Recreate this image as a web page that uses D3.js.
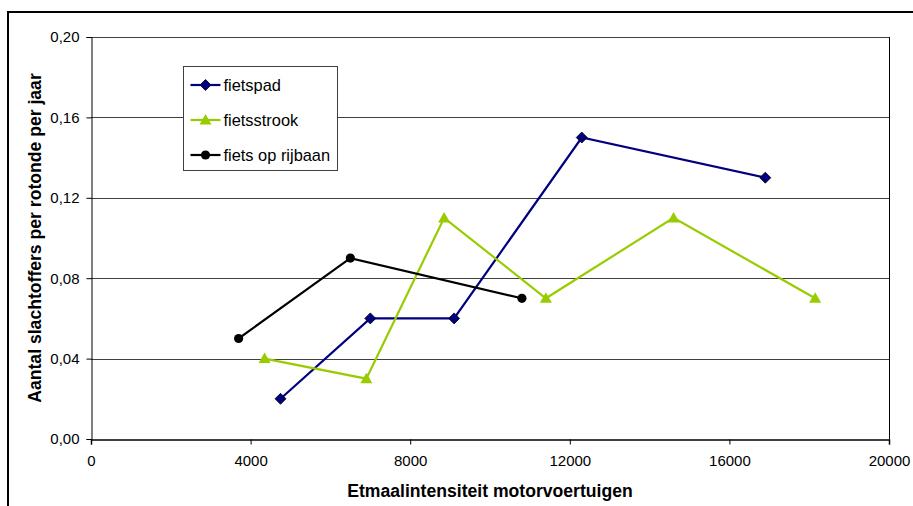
<!DOCTYPE html>
<html>
<head>
<meta charset="utf-8">
<script src="https://cdn.jsdelivr.net/npm/d3@7"></script>
<style>
  html, body { margin: 0; padding: 0; background: #fff; }
  svg { display: block; font-family: "Liberation Sans", Arial, sans-serif; }
</style>
</head>
<body>
<svg id="chart" width="913" height="506"></svg>
<script>
// Casualties per roundabout per year against daily motor vehicle volume
const xTicks = [0, 4000, 8000, 12000, 16000, 20000];
const yTicks = [0, 0.04, 0.08, 0.12, 0.16, 0.20];

const fietspadX = [4750, 7000, 9100, 12300, 16900];
const fietspadY = [0.02, 0.06, 0.06, 0.15, 0.13];

const fietsstrookX = [4350, 6900, 8850, 11400, 14600, 18150];
const fietsstrookY = [0.04, 0.03, 0.11, 0.07, 0.11, 0.07];

const rijbaanX = [3700, 6500, 10800];
const rijbaanY = [0.05, 0.09, 0.07];

const seriesNames = ["fietspad", "fietsstrook", "fiets op rijbaan"];

const series = [
  { name: seriesNames[0], xs: fietspadX, ys: fietspadY, color: "#000080", marker: "diamond" },
  { name: seriesNames[1], xs: fietsstrookX, ys: fietsstrookY, color: "#99CC00", marker: "triangle" },
  { name: seriesNames[2], xs: rijbaanX, ys: rijbaanY, color: "#000000", marker: "circle" }
];

const svg = d3.select("#chart");
const plot = { left: 91, right: 889, top: 37, bottom: 439 };

const x = d3.scaleLinear().domain([0, 20000]).range([plot.left, plot.right]);
const y = d3.scaleLinear().domain([0, 0.20]).range([plot.bottom, plot.top]);

// Outer frame (top and left edges visible)
svg.append("line").attr("x1", 8).attr("x2", 913).attr("y1", 12).attr("y2", 12)
  .attr("stroke", "#000").attr("stroke-width", 2);
svg.append("line").attr("x1", 8).attr("x2", 8).attr("y1", 11).attr("y2", 506)
  .attr("stroke", "#000").attr("stroke-width", 2);

// Horizontal gridlines
svg.append("g").selectAll("line").data(yTicks.filter(d => d > 0)).join("line")
  .attr("x1", plot.left).attr("x2", plot.right)
  .attr("y1", d => Math.round(y(d)) + 0.5).attr("y2", d => Math.round(y(d)) + 0.5)
  .attr("stroke", "#404040").attr("stroke-width", 1);

// Plot area right edge
svg.append("line").attr("x1", plot.right + 0.5).attr("x2", plot.right + 0.5)
  .attr("y1", plot.top).attr("y2", plot.bottom)
  .attr("stroke", "#000").attr("stroke-width", 1);

// Axes
const fmtY = d => d3.format(".2f")(d).replace(".", ",");
const yAxis = d3.axisLeft(y).tickValues(yTicks).tickFormat(fmtY).tickSize(5).tickPadding(7);
const xAxis = d3.axisBottom(x).tickValues(xTicks).tickFormat(d3.format("d")).tickSize(5).tickPadding(11);

const gy = svg.append("g").attr("transform", `translate(${plot.left + 0.5},0)`).call(yAxis);
const gx = svg.append("g").attr("transform", `translate(0,${plot.bottom + 0.5})`).call(xAxis);
[gx, gy].forEach(g => {
  g.select(".domain").attr("stroke", "#000");
  g.selectAll(".tick line").attr("stroke", "#000");
  g.selectAll("text").attr("font-size", 15).attr("fill", "#000")
    .attr("font-family", "'Liberation Sans', Arial, sans-serif");
});
gx.select(".domain").attr("stroke-width", 1.5);

// Axis titles
svg.append("text")
  .attr("x", 490).attr("y", 497)
  .attr("text-anchor", "middle").attr("font-size", 17.6).attr("font-weight", "bold")
  .text("Etmaalintensiteit motorvoertuigen");
svg.append("text")
  .attr("transform", `translate(41,${(plot.top + plot.bottom) / 2}) rotate(-90)`)
  .attr("text-anchor", "middle").attr("font-size", 17.6).attr("font-weight", "bold")
  .text("Aantal slachtoffers per rotonde per jaar");

// Marker drawing
function drawMarker(sel, type, color) {
  if (type === "diamond") {
    sel.append("path").attr("d", "M0,-5.5L5.5,0L0,5.5L-5.5,0Z")
      .attr("fill", color).attr("stroke", "#000").attr("stroke-width", 0.8);
  } else if (type === "triangle") {
    sel.append("path").attr("d", "M0,-6L6,4.5L-6,4.5Z").attr("fill", color);
  } else {
    sel.append("circle").attr("r", 4.6).attr("fill", color);
  }
}

// Series lines and markers
const line = d3.line().x(d => x(d[0])).y(d => y(d[1]));
series.forEach(s => {
  const pts = s.xs.map((v, i) => [v, s.ys[i]]);
  svg.append("path").datum(pts).attr("d", line)
    .attr("fill", "none").attr("stroke", s.color).attr("stroke-width", 2.2);
  svg.append("g").selectAll("g").data(pts).join("g")
    .attr("transform", d => `translate(${x(d[0])},${y(d[1])})`)
    .each(function () { drawMarker(d3.select(this), s.marker, s.color); });
});

// Legend
const lg = svg.append("g").attr("transform", "translate(183.5,66.5)");
lg.append("rect").attr("width", 154).attr("height", 104)
  .attr("fill", "#fff").attr("stroke", "#404040").attr("stroke-width", 1);
series.forEach((s, i) => {
  const row = lg.append("g").attr("transform", `translate(0,${18.5 + i * 35})`);
  row.append("line").attr("x1", 7).attr("x2", 37).attr("y1", 0).attr("y2", 0)
    .attr("stroke", s.color).attr("stroke-width", 2.2);
  drawMarker(row.append("g").attr("transform", "translate(22,0)"), s.marker, s.color);
  row.append("text").attr("x", 40).attr("y", 6).attr("font-size", 16.4).text(s.name);
});
</script>
</body>
</html>
